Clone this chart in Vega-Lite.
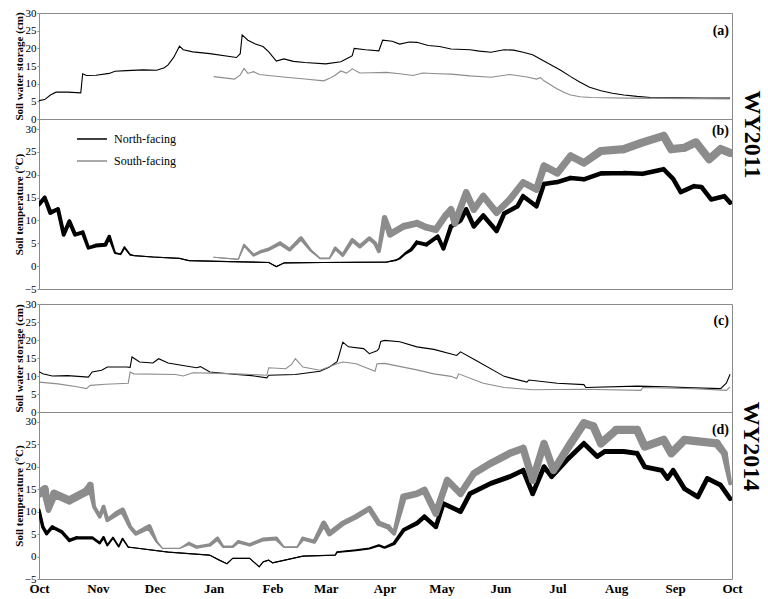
{
  "$schema": "https://vega.github.io/schema/vega-lite/v6.json",
  "padding": {"left": 12, "top": 6, "right": 0, "bottom": 0},
  "background": "white",
  "config": {
    "font": "Liberation Serif",
    "view": {"stroke": "#8a8a8a", "strokeWidth": 1},
    "axis": {"labelFont": "Liberation Serif", "labelFontSize": 11, "labelColor": "#000", "titleFont": "Liberation Serif", "titleFontSize": 11, "titleFontWeight": "bold", "titleColor": "#000", "domain": false, "grid": false},
    "axisY": {"tickSize": 2, "tickColor": "#8a8a8a", "labelPadding": 1, "minExtent": 14, "maxExtent": 14, "titlePadding": 1}
  },
  "datasets": {
    "a": [
      {"date": "2010/10/01", "site": "North-facing", "v": 5.2},
      {"date": "2010/10/04", "site": "North-facing", "v": 5.5},
      {"date": "2010/10/07", "site": "North-facing", "v": 6.8},
      {"date": "2010/10/10", "site": "North-facing", "v": 7.6},
      {"date": "2010/10/16", "site": "North-facing", "v": 7.6},
      {"date": "2010/10/23", "site": "North-facing", "v": 7.4},
      {"date": "2010/10/24", "site": "North-facing", "v": 12.8},
      {"date": "2010/10/26", "site": "North-facing", "v": 12.3},
      {"date": "2010/10/31", "site": "North-facing", "v": 12.4},
      {"date": "2010/11/07", "site": "North-facing", "v": 12.9},
      {"date": "2010/11/10", "site": "North-facing", "v": 13.5},
      {"date": "2010/11/16", "site": "North-facing", "v": 13.7},
      {"date": "2010/11/25", "site": "North-facing", "v": 13.9},
      {"date": "2010/12/02", "site": "North-facing", "v": 13.8},
      {"date": "2010/12/06", "site": "North-facing", "v": 14.5},
      {"date": "2010/12/08", "site": "North-facing", "v": 15.3},
      {"date": "2010/12/11", "site": "North-facing", "v": 17.5},
      {"date": "2010/12/14", "site": "North-facing", "v": 20.6},
      {"date": "2010/12/16", "site": "North-facing", "v": 19.6},
      {"date": "2010/12/21", "site": "North-facing", "v": 19.0},
      {"date": "2010/12/30", "site": "North-facing", "v": 18.5},
      {"date": "2011/01/13", "site": "North-facing", "v": 17.4},
      {"date": "2011/01/15", "site": "North-facing", "v": 18.5},
      {"date": "2011/01/16", "site": "North-facing", "v": 23.8},
      {"date": "2011/01/19", "site": "North-facing", "v": 22.3},
      {"date": "2011/01/23", "site": "North-facing", "v": 21.2},
      {"date": "2011/01/27", "site": "North-facing", "v": 20.5},
      {"date": "2011/01/30", "site": "North-facing", "v": 19.0},
      {"date": "2011/02/03", "site": "North-facing", "v": 16.4},
      {"date": "2011/02/07", "site": "North-facing", "v": 17.0},
      {"date": "2011/02/12", "site": "North-facing", "v": 16.3},
      {"date": "2011/02/18", "site": "North-facing", "v": 16.0},
      {"date": "2011/03/01", "site": "North-facing", "v": 15.6},
      {"date": "2011/03/09", "site": "North-facing", "v": 16.2},
      {"date": "2011/03/14", "site": "North-facing", "v": 17.6},
      {"date": "2011/03/15", "site": "North-facing", "v": 17.9},
      {"date": "2011/03/16", "site": "North-facing", "v": 20.0},
      {"date": "2011/03/22", "site": "North-facing", "v": 19.6},
      {"date": "2011/03/29", "site": "North-facing", "v": 19.3},
      {"date": "2011/03/31", "site": "North-facing", "v": 22.3},
      {"date": "2011/04/05", "site": "North-facing", "v": 22.0},
      {"date": "2011/04/09", "site": "North-facing", "v": 21.2},
      {"date": "2011/04/14", "site": "North-facing", "v": 21.8},
      {"date": "2011/04/18", "site": "North-facing", "v": 21.7},
      {"date": "2011/04/24", "site": "North-facing", "v": 20.8},
      {"date": "2011/04/30", "site": "North-facing", "v": 20.5},
      {"date": "2011/05/06", "site": "North-facing", "v": 19.8},
      {"date": "2011/05/16", "site": "North-facing", "v": 19.6},
      {"date": "2011/05/21", "site": "North-facing", "v": 19.2},
      {"date": "2011/05/27", "site": "North-facing", "v": 18.9},
      {"date": "2011/06/03", "site": "North-facing", "v": 19.6},
      {"date": "2011/06/08", "site": "North-facing", "v": 19.5},
      {"date": "2011/06/13", "site": "North-facing", "v": 18.9},
      {"date": "2011/06/18", "site": "North-facing", "v": 18.2},
      {"date": "2011/06/22", "site": "North-facing", "v": 17.0},
      {"date": "2011/06/28", "site": "North-facing", "v": 15.2},
      {"date": "2011/07/03", "site": "North-facing", "v": 13.7},
      {"date": "2011/07/08", "site": "North-facing", "v": 12.0},
      {"date": "2011/07/13", "site": "North-facing", "v": 10.4},
      {"date": "2011/07/18", "site": "North-facing", "v": 9.0},
      {"date": "2011/07/24", "site": "North-facing", "v": 8.0},
      {"date": "2011/07/30", "site": "North-facing", "v": 7.3},
      {"date": "2011/08/05", "site": "North-facing", "v": 6.8},
      {"date": "2011/08/12", "site": "North-facing", "v": 6.4},
      {"date": "2011/08/19", "site": "North-facing", "v": 6.1},
      {"date": "2011/09/01", "site": "North-facing", "v": 6.0},
      {"date": "2011/09/16", "site": "North-facing", "v": 5.9},
      {"date": "2011/09/30", "site": "North-facing", "v": 5.9},
      {"date": "2011/01/01", "site": "South-facing", "v": 12.0},
      {"date": "2011/01/12", "site": "South-facing", "v": 11.3},
      {"date": "2011/01/15", "site": "South-facing", "v": 12.5},
      {"date": "2011/01/17", "site": "South-facing", "v": 14.3},
      {"date": "2011/01/19", "site": "South-facing", "v": 12.9},
      {"date": "2011/01/22", "site": "South-facing", "v": 13.4},
      {"date": "2011/01/25", "site": "South-facing", "v": 12.6},
      {"date": "2011/01/30", "site": "South-facing", "v": 12.3},
      {"date": "2011/02/08", "site": "South-facing", "v": 11.8},
      {"date": "2011/02/18", "site": "South-facing", "v": 11.3},
      {"date": "2011/02/28", "site": "South-facing", "v": 10.8},
      {"date": "2011/03/03", "site": "South-facing", "v": 11.5},
      {"date": "2011/03/06", "site": "South-facing", "v": 12.4},
      {"date": "2011/03/09", "site": "South-facing", "v": 13.6},
      {"date": "2011/03/12", "site": "South-facing", "v": 13.0},
      {"date": "2011/03/15", "site": "South-facing", "v": 14.2},
      {"date": "2011/03/19", "site": "South-facing", "v": 13.0},
      {"date": "2011/03/25", "site": "South-facing", "v": 13.1},
      {"date": "2011/04/02", "site": "South-facing", "v": 13.2},
      {"date": "2011/04/09", "site": "South-facing", "v": 12.8},
      {"date": "2011/04/16", "site": "South-facing", "v": 12.3},
      {"date": "2011/04/21", "site": "South-facing", "v": 13.0},
      {"date": "2011/04/29", "site": "South-facing", "v": 12.8},
      {"date": "2011/05/06", "site": "South-facing", "v": 12.7},
      {"date": "2011/05/16", "site": "South-facing", "v": 12.2},
      {"date": "2011/05/27", "site": "South-facing", "v": 11.8},
      {"date": "2011/06/06", "site": "South-facing", "v": 12.6},
      {"date": "2011/06/15", "site": "South-facing", "v": 11.9},
      {"date": "2011/06/20", "site": "South-facing", "v": 11.3},
      {"date": "2011/06/22", "site": "South-facing", "v": 11.7},
      {"date": "2011/06/24", "site": "South-facing", "v": 10.8},
      {"date": "2011/06/28", "site": "South-facing", "v": 9.5},
      {"date": "2011/07/01", "site": "South-facing", "v": 8.5},
      {"date": "2011/07/05", "site": "South-facing", "v": 7.4},
      {"date": "2011/07/08", "site": "South-facing", "v": 6.8},
      {"date": "2011/07/13", "site": "South-facing", "v": 6.3},
      {"date": "2011/07/19", "site": "South-facing", "v": 6.1},
      {"date": "2011/08/07", "site": "South-facing", "v": 5.9},
      {"date": "2011/09/30", "site": "South-facing", "v": 5.7}
    ],
    "b": [
      {"date": "2010/10/01", "site": "North-facing", "v": 13.5, "r": 1.0},
      {"date": "2010/10/04", "site": "North-facing", "v": 15.0, "r": 1.0},
      {"date": "2010/10/07", "site": "North-facing", "v": 11.7, "r": 1.2},
      {"date": "2010/10/11", "site": "North-facing", "v": 12.5, "r": 1.0},
      {"date": "2010/10/14", "site": "North-facing", "v": 6.9, "r": 1.0},
      {"date": "2010/10/17", "site": "North-facing", "v": 9.8, "r": 1.0},
      {"date": "2010/10/20", "site": "North-facing", "v": 6.9, "r": 1.0},
      {"date": "2010/10/24", "site": "North-facing", "v": 7.4, "r": 1.0},
      {"date": "2010/10/27", "site": "North-facing", "v": 4.0, "r": 0.8},
      {"date": "2010/10/31", "site": "North-facing", "v": 4.5, "r": 1.0},
      {"date": "2010/11/05", "site": "North-facing", "v": 4.7, "r": 1.0},
      {"date": "2010/11/07", "site": "North-facing", "v": 6.5, "r": 0.8},
      {"date": "2010/11/10", "site": "North-facing", "v": 2.9, "r": 0.3},
      {"date": "2010/11/13", "site": "North-facing", "v": 2.6, "r": 0.2},
      {"date": "2010/11/15", "site": "North-facing", "v": 4.1, "r": 0.3},
      {"date": "2010/11/18", "site": "North-facing", "v": 2.5, "r": 0.2},
      {"date": "2010/11/20", "site": "North-facing", "v": 2.3, "r": 0},
      {"date": "2010/11/30", "site": "North-facing", "v": 2.0, "r": 0},
      {"date": "2010/12/14", "site": "North-facing", "v": 1.7, "r": 0},
      {"date": "2010/12/19", "site": "North-facing", "v": 1.2, "r": 0},
      {"date": "2011/01/09", "site": "North-facing", "v": 1.0, "r": 0},
      {"date": "2011/01/30", "site": "North-facing", "v": 0.8, "r": 0},
      {"date": "2011/02/03", "site": "North-facing", "v": -0.1, "r": 0},
      {"date": "2011/02/07", "site": "North-facing", "v": 0.7, "r": 0},
      {"date": "2011/02/28", "site": "North-facing", "v": 0.8, "r": 0},
      {"date": "2011/04/02", "site": "North-facing", "v": 0.9, "r": 0},
      {"date": "2011/04/07", "site": "North-facing", "v": 1.3, "r": 0.2},
      {"date": "2011/04/09", "site": "North-facing", "v": 1.7, "r": 0.3},
      {"date": "2011/04/12", "site": "North-facing", "v": 2.8, "r": 0.5},
      {"date": "2011/04/15", "site": "North-facing", "v": 3.6, "r": 0.8},
      {"date": "2011/04/18", "site": "North-facing", "v": 5.2, "r": 1.0},
      {"date": "2011/04/23", "site": "North-facing", "v": 4.7, "r": 1.0},
      {"date": "2011/04/29", "site": "North-facing", "v": 6.5, "r": 1.0},
      {"date": "2011/05/02", "site": "North-facing", "v": 3.8, "r": 1.0},
      {"date": "2011/05/06", "site": "North-facing", "v": 8.7, "r": 1.2},
      {"date": "2011/05/11", "site": "North-facing", "v": 10.0, "r": 1.2},
      {"date": "2011/05/14", "site": "North-facing", "v": 12.4, "r": 1.2},
      {"date": "2011/05/18", "site": "North-facing", "v": 8.7, "r": 1.2},
      {"date": "2011/05/23", "site": "North-facing", "v": 11.1, "r": 1.2},
      {"date": "2011/05/30", "site": "North-facing", "v": 7.7, "r": 1.2},
      {"date": "2011/06/03", "site": "North-facing", "v": 11.5, "r": 1.2},
      {"date": "2011/06/10", "site": "North-facing", "v": 13.1, "r": 1.2},
      {"date": "2011/06/13", "site": "North-facing", "v": 15.3, "r": 1.2},
      {"date": "2011/06/20", "site": "North-facing", "v": 13.1, "r": 1.2},
      {"date": "2011/06/24", "site": "North-facing", "v": 18.0, "r": 1.2},
      {"date": "2011/07/01", "site": "North-facing", "v": 18.4, "r": 1.2},
      {"date": "2011/07/08", "site": "North-facing", "v": 19.3, "r": 1.2},
      {"date": "2011/07/15", "site": "North-facing", "v": 19.0, "r": 1.2},
      {"date": "2011/07/24", "site": "North-facing", "v": 20.3, "r": 1.2},
      {"date": "2011/08/05", "site": "North-facing", "v": 20.4, "r": 1.2},
      {"date": "2011/08/15", "site": "North-facing", "v": 20.2, "r": 1.2},
      {"date": "2011/08/26", "site": "North-facing", "v": 21.2, "r": 1.2},
      {"date": "2011/08/31", "site": "North-facing", "v": 19.1, "r": 1.2},
      {"date": "2011/09/04", "site": "North-facing", "v": 16.2, "r": 1.2},
      {"date": "2011/09/11", "site": "North-facing", "v": 17.5, "r": 1.2},
      {"date": "2011/09/15", "site": "North-facing", "v": 17.3, "r": 1.2},
      {"date": "2011/09/20", "site": "North-facing", "v": 14.6, "r": 1.2},
      {"date": "2011/09/27", "site": "North-facing", "v": 15.3, "r": 1.2},
      {"date": "2011/09/30", "site": "North-facing", "v": 13.9, "r": 1.2},
      {"date": "2011/01/01", "site": "South-facing", "v": 1.95, "r": 0},
      {"date": "2011/01/14", "site": "South-facing", "v": 1.5, "r": 0},
      {"date": "2011/01/17", "site": "South-facing", "v": 4.6, "r": 0.5},
      {"date": "2011/01/22", "site": "South-facing", "v": 2.4, "r": 0.6},
      {"date": "2011/01/26", "site": "South-facing", "v": 3.2, "r": 0.8},
      {"date": "2011/01/30", "site": "South-facing", "v": 3.7, "r": 0.8},
      {"date": "2011/02/05", "site": "South-facing", "v": 5.0, "r": 1.0},
      {"date": "2011/02/10", "site": "South-facing", "v": 3.6, "r": 0.8},
      {"date": "2011/02/16", "site": "South-facing", "v": 6.1, "r": 1.0},
      {"date": "2011/02/21", "site": "South-facing", "v": 3.5, "r": 0.5},
      {"date": "2011/02/26", "site": "South-facing", "v": 1.7, "r": 0.2},
      {"date": "2011/03/03", "site": "South-facing", "v": 1.7, "r": 0.2},
      {"date": "2011/03/06", "site": "South-facing", "v": 3.9, "r": 0.8},
      {"date": "2011/03/10", "site": "South-facing", "v": 2.4, "r": 0.8},
      {"date": "2011/03/15", "site": "South-facing", "v": 5.7, "r": 1.0},
      {"date": "2011/03/19", "site": "South-facing", "v": 4.3, "r": 1.0},
      {"date": "2011/03/24", "site": "South-facing", "v": 6.1, "r": 1.0},
      {"date": "2011/03/27", "site": "South-facing", "v": 5.0, "r": 1.0},
      {"date": "2011/03/29", "site": "South-facing", "v": 3.3, "r": 1.0},
      {"date": "2011/04/01", "site": "South-facing", "v": 10.6, "r": 1.5},
      {"date": "2011/04/04", "site": "South-facing", "v": 7.0, "r": 2.0},
      {"date": "2011/04/11", "site": "South-facing", "v": 8.7, "r": 2.0},
      {"date": "2011/04/18", "site": "South-facing", "v": 9.4, "r": 2.0},
      {"date": "2011/04/23", "site": "South-facing", "v": 8.5, "r": 2.0},
      {"date": "2011/04/28", "site": "South-facing", "v": 8.0, "r": 2.0},
      {"date": "2011/05/03", "site": "South-facing", "v": 11.0, "r": 2.0},
      {"date": "2011/05/06", "site": "South-facing", "v": 12.4, "r": 2.0},
      {"date": "2011/05/08", "site": "South-facing", "v": 9.4, "r": 2.0},
      {"date": "2011/05/14", "site": "South-facing", "v": 16.1, "r": 2.0},
      {"date": "2011/05/18", "site": "South-facing", "v": 12.4, "r": 2.0},
      {"date": "2011/05/23", "site": "South-facing", "v": 15.3, "r": 2.0},
      {"date": "2011/05/30", "site": "South-facing", "v": 11.7, "r": 2.0},
      {"date": "2011/06/06", "site": "South-facing", "v": 14.6, "r": 2.0},
      {"date": "2011/06/13", "site": "South-facing", "v": 18.3, "r": 2.0},
      {"date": "2011/06/20", "site": "South-facing", "v": 16.8, "r": 2.0},
      {"date": "2011/06/24", "site": "South-facing", "v": 21.9, "r": 2.2},
      {"date": "2011/07/01", "site": "South-facing", "v": 20.4, "r": 2.2},
      {"date": "2011/07/08", "site": "South-facing", "v": 24.1, "r": 2.2},
      {"date": "2011/07/15", "site": "South-facing", "v": 22.6, "r": 2.2},
      {"date": "2011/07/24", "site": "South-facing", "v": 25.2, "r": 2.5},
      {"date": "2011/08/05", "site": "South-facing", "v": 25.6, "r": 2.5},
      {"date": "2011/08/15", "site": "South-facing", "v": 27.1, "r": 2.5},
      {"date": "2011/08/26", "site": "South-facing", "v": 28.5, "r": 2.5},
      {"date": "2011/08/30", "site": "South-facing", "v": 25.6, "r": 2.5},
      {"date": "2011/09/06", "site": "South-facing", "v": 25.9, "r": 2.5},
      {"date": "2011/09/12", "site": "South-facing", "v": 27.1, "r": 2.5},
      {"date": "2011/09/19", "site": "South-facing", "v": 23.4, "r": 2.5},
      {"date": "2011/09/25", "site": "South-facing", "v": 25.6, "r": 2.5},
      {"date": "2011/09/30", "site": "South-facing", "v": 24.8, "r": 2.5}
    ],
    "c": [
      {"date": "2013/10/01", "site": "North-facing", "v": 11.2},
      {"date": "2013/10/03", "site": "North-facing", "v": 10.6},
      {"date": "2013/10/08", "site": "North-facing", "v": 10.0},
      {"date": "2013/10/16", "site": "North-facing", "v": 10.1},
      {"date": "2013/10/27", "site": "North-facing", "v": 9.7},
      {"date": "2013/10/29", "site": "North-facing", "v": 11.1},
      {"date": "2013/11/03", "site": "North-facing", "v": 11.6},
      {"date": "2013/11/06", "site": "North-facing", "v": 12.5},
      {"date": "2013/11/16", "site": "North-facing", "v": 12.5},
      {"date": "2013/11/18", "site": "North-facing", "v": 12.4},
      {"date": "2013/11/19", "site": "North-facing", "v": 15.3},
      {"date": "2013/11/23", "site": "North-facing", "v": 13.9},
      {"date": "2013/11/30", "site": "North-facing", "v": 13.6},
      {"date": "2013/12/03", "site": "North-facing", "v": 14.8},
      {"date": "2013/12/08", "site": "North-facing", "v": 13.6},
      {"date": "2013/12/15", "site": "North-facing", "v": 13.0},
      {"date": "2013/12/23", "site": "North-facing", "v": 12.3},
      {"date": "2013/12/25", "site": "North-facing", "v": 12.6},
      {"date": "2013/12/30", "site": "North-facing", "v": 11.1},
      {"date": "2014/01/13", "site": "North-facing", "v": 10.4},
      {"date": "2014/01/21", "site": "North-facing", "v": 10.1},
      {"date": "2014/01/29", "site": "North-facing", "v": 9.5},
      {"date": "2014/01/30", "site": "North-facing", "v": 10.2},
      {"date": "2014/02/13", "site": "North-facing", "v": 10.4},
      {"date": "2014/02/26", "site": "North-facing", "v": 11.3},
      {"date": "2014/03/03", "site": "North-facing", "v": 12.5},
      {"date": "2014/03/07", "site": "North-facing", "v": 14.0},
      {"date": "2014/03/08", "site": "North-facing", "v": 15.7},
      {"date": "2014/03/10", "site": "North-facing", "v": 19.4},
      {"date": "2014/03/13", "site": "North-facing", "v": 18.1},
      {"date": "2014/03/21", "site": "North-facing", "v": 17.6},
      {"date": "2014/03/24", "site": "North-facing", "v": 16.2},
      {"date": "2014/03/28", "site": "North-facing", "v": 17.0},
      {"date": "2014/03/29", "site": "North-facing", "v": 17.6},
      {"date": "2014/03/30", "site": "North-facing", "v": 19.6},
      {"date": "2014/04/01", "site": "North-facing", "v": 19.9},
      {"date": "2014/04/09", "site": "North-facing", "v": 19.5},
      {"date": "2014/04/18", "site": "North-facing", "v": 18.1},
      {"date": "2014/04/27", "site": "North-facing", "v": 17.4},
      {"date": "2014/05/09", "site": "North-facing", "v": 15.7},
      {"date": "2014/05/11", "site": "North-facing", "v": 16.7},
      {"date": "2014/05/19", "site": "North-facing", "v": 14.4},
      {"date": "2014/06/03", "site": "North-facing", "v": 9.9},
      {"date": "2014/06/15", "site": "North-facing", "v": 8.3},
      {"date": "2014/06/16", "site": "North-facing", "v": 8.9},
      {"date": "2014/07/01", "site": "North-facing", "v": 8.0},
      {"date": "2014/07/15", "site": "North-facing", "v": 7.6},
      {"date": "2014/07/16", "site": "North-facing", "v": 6.8},
      {"date": "2014/08/12", "site": "North-facing", "v": 7.2},
      {"date": "2014/08/27", "site": "North-facing", "v": 7.0},
      {"date": "2014/09/11", "site": "North-facing", "v": 6.7},
      {"date": "2014/09/25", "site": "North-facing", "v": 6.5},
      {"date": "2014/09/28", "site": "North-facing", "v": 8.0},
      {"date": "2014/09/30", "site": "North-facing", "v": 10.5},
      {"date": "2013/10/01", "site": "South-facing", "v": 8.3},
      {"date": "2013/10/11", "site": "South-facing", "v": 7.8},
      {"date": "2013/10/21", "site": "South-facing", "v": 7.0},
      {"date": "2013/10/26", "site": "South-facing", "v": 6.5},
      {"date": "2013/10/28", "site": "South-facing", "v": 7.4},
      {"date": "2013/11/05", "site": "South-facing", "v": 7.7},
      {"date": "2013/11/17", "site": "South-facing", "v": 8.0},
      {"date": "2013/11/18", "site": "South-facing", "v": 11.1},
      {"date": "2013/11/20", "site": "South-facing", "v": 10.6},
      {"date": "2013/12/12", "site": "South-facing", "v": 10.4},
      {"date": "2013/12/16", "site": "South-facing", "v": 10.0},
      {"date": "2013/12/21", "site": "South-facing", "v": 10.9},
      {"date": "2013/12/30", "site": "South-facing", "v": 10.8},
      {"date": "2014/01/13", "site": "South-facing", "v": 10.6},
      {"date": "2014/01/29", "site": "South-facing", "v": 10.2},
      {"date": "2014/01/30", "site": "South-facing", "v": 12.3},
      {"date": "2014/02/08", "site": "South-facing", "v": 12.0},
      {"date": "2014/02/11", "site": "South-facing", "v": 13.2},
      {"date": "2014/02/13", "site": "South-facing", "v": 14.8},
      {"date": "2014/02/17", "site": "South-facing", "v": 12.5},
      {"date": "2014/02/26", "site": "South-facing", "v": 11.6},
      {"date": "2014/03/07", "site": "South-facing", "v": 13.4},
      {"date": "2014/03/10", "site": "South-facing", "v": 13.9},
      {"date": "2014/03/17", "site": "South-facing", "v": 13.4},
      {"date": "2014/03/27", "site": "South-facing", "v": 11.3},
      {"date": "2014/03/28", "site": "South-facing", "v": 13.4},
      {"date": "2014/04/01", "site": "South-facing", "v": 13.5},
      {"date": "2014/04/18", "site": "South-facing", "v": 11.7},
      {"date": "2014/04/27", "site": "South-facing", "v": 10.6},
      {"date": "2014/05/06", "site": "South-facing", "v": 9.9},
      {"date": "2014/05/09", "site": "South-facing", "v": 9.3},
      {"date": "2014/05/10", "site": "South-facing", "v": 10.6},
      {"date": "2014/05/23", "site": "South-facing", "v": 8.0},
      {"date": "2014/06/03", "site": "South-facing", "v": 6.8},
      {"date": "2014/06/18", "site": "South-facing", "v": 6.2},
      {"date": "2014/07/15", "site": "South-facing", "v": 6.3},
      {"date": "2014/08/14", "site": "South-facing", "v": 6.0},
      {"date": "2014/08/15", "site": "South-facing", "v": 6.8},
      {"date": "2014/09/11", "site": "South-facing", "v": 6.5},
      {"date": "2014/09/28", "site": "South-facing", "v": 6.0},
      {"date": "2014/09/30", "site": "South-facing", "v": 7.0}
    ],
    "d": [
      {"date": "2013/10/01", "site": "North-facing", "v": 10.3, "r": 0.8},
      {"date": "2013/10/03", "site": "North-facing", "v": 6.6, "r": 0.8},
      {"date": "2013/10/05", "site": "North-facing", "v": 5.1, "r": 0.8},
      {"date": "2013/10/08", "site": "North-facing", "v": 6.6, "r": 0.8},
      {"date": "2013/10/13", "site": "North-facing", "v": 5.5, "r": 0.8},
      {"date": "2013/10/17", "site": "North-facing", "v": 3.6, "r": 0.8},
      {"date": "2013/10/21", "site": "North-facing", "v": 4.2, "r": 0.8},
      {"date": "2013/10/29", "site": "North-facing", "v": 4.2, "r": 0.6},
      {"date": "2013/11/02", "site": "North-facing", "v": 3.0, "r": 0.5},
      {"date": "2013/11/04", "site": "North-facing", "v": 4.3, "r": 0.5},
      {"date": "2013/11/06", "site": "North-facing", "v": 2.5, "r": 0.3},
      {"date": "2013/11/09", "site": "North-facing", "v": 4.2, "r": 0.3},
      {"date": "2013/11/12", "site": "North-facing", "v": 2.2, "r": 0.2},
      {"date": "2013/11/14", "site": "North-facing", "v": 4.0, "r": 0.2},
      {"date": "2013/11/17", "site": "North-facing", "v": 2.1, "r": 0.1},
      {"date": "2013/11/21", "site": "North-facing", "v": 1.9, "r": 0},
      {"date": "2013/12/08", "site": "North-facing", "v": 1.0, "r": 0},
      {"date": "2013/12/30", "site": "North-facing", "v": 0.3, "r": 0},
      {"date": "2014/01/04", "site": "North-facing", "v": -0.8, "r": 0},
      {"date": "2014/01/08", "site": "North-facing", "v": -1.6, "r": 0},
      {"date": "2014/01/11", "site": "North-facing", "v": -0.4, "r": 0},
      {"date": "2014/01/20", "site": "North-facing", "v": -0.4, "r": 0},
      {"date": "2014/01/25", "site": "North-facing", "v": -2.3, "r": 0},
      {"date": "2014/01/27", "site": "North-facing", "v": -1.2, "r": 0},
      {"date": "2014/01/30", "site": "North-facing", "v": -0.8, "r": 0},
      {"date": "2014/02/01", "site": "North-facing", "v": -1.4, "r": 0},
      {"date": "2014/02/17", "site": "North-facing", "v": 0.1, "r": 0},
      {"date": "2014/03/06", "site": "North-facing", "v": 0.3, "r": 0},
      {"date": "2014/03/07", "site": "North-facing", "v": 1.0, "r": 0.2},
      {"date": "2014/03/17", "site": "North-facing", "v": 1.4, "r": 0.3},
      {"date": "2014/03/24", "site": "North-facing", "v": 1.8, "r": 0.3},
      {"date": "2014/03/29", "site": "North-facing", "v": 2.5, "r": 0.4},
      {"date": "2014/04/01", "site": "North-facing", "v": 2.0, "r": 0.4},
      {"date": "2014/04/06", "site": "North-facing", "v": 2.9, "r": 0.8},
      {"date": "2014/04/11", "site": "North-facing", "v": 5.9, "r": 1.0},
      {"date": "2014/04/18", "site": "North-facing", "v": 7.4, "r": 1.2},
      {"date": "2014/04/22", "site": "North-facing", "v": 8.9, "r": 1.2},
      {"date": "2014/04/28", "site": "North-facing", "v": 6.6, "r": 1.2},
      {"date": "2014/05/02", "site": "North-facing", "v": 11.8, "r": 1.2},
      {"date": "2014/05/11", "site": "North-facing", "v": 10.0, "r": 1.3},
      {"date": "2014/05/16", "site": "North-facing", "v": 14.0, "r": 1.3},
      {"date": "2014/05/27", "site": "North-facing", "v": 16.3, "r": 1.3},
      {"date": "2014/06/06", "site": "North-facing", "v": 17.8, "r": 1.3},
      {"date": "2014/06/13", "site": "North-facing", "v": 19.2, "r": 1.3},
      {"date": "2014/06/18", "site": "North-facing", "v": 14.0, "r": 1.3},
      {"date": "2014/06/24", "site": "North-facing", "v": 20.0, "r": 1.3},
      {"date": "2014/06/28", "site": "North-facing", "v": 17.8, "r": 1.3},
      {"date": "2014/07/06", "site": "North-facing", "v": 21.5, "r": 1.3},
      {"date": "2014/07/15", "site": "North-facing", "v": 25.2, "r": 1.3},
      {"date": "2014/07/22", "site": "North-facing", "v": 22.3, "r": 1.3},
      {"date": "2014/07/26", "site": "North-facing", "v": 23.4, "r": 1.3},
      {"date": "2014/08/05", "site": "North-facing", "v": 23.4, "r": 1.3},
      {"date": "2014/08/12", "site": "North-facing", "v": 23.0, "r": 1.3},
      {"date": "2014/08/16", "site": "North-facing", "v": 20.0, "r": 1.3},
      {"date": "2014/08/25", "site": "North-facing", "v": 19.2, "r": 1.3},
      {"date": "2014/08/28", "site": "North-facing", "v": 17.4, "r": 1.3},
      {"date": "2014/08/31", "site": "North-facing", "v": 19.2, "r": 1.3},
      {"date": "2014/09/06", "site": "North-facing", "v": 15.1, "r": 1.3},
      {"date": "2014/09/13", "site": "North-facing", "v": 13.3, "r": 1.3},
      {"date": "2014/09/18", "site": "North-facing", "v": 17.4, "r": 1.3},
      {"date": "2014/09/25", "site": "North-facing", "v": 15.9, "r": 1.3},
      {"date": "2014/09/30", "site": "North-facing", "v": 12.9, "r": 1.3},
      {"date": "2013/10/01", "site": "South-facing", "v": 14.0, "r": 2.5},
      {"date": "2013/10/04", "site": "South-facing", "v": 15.0, "r": 2.5},
      {"date": "2013/10/06", "site": "South-facing", "v": 10.3, "r": 1.5},
      {"date": "2013/10/09", "site": "South-facing", "v": 14.0, "r": 2.5},
      {"date": "2013/10/17", "site": "South-facing", "v": 12.5, "r": 2.5},
      {"date": "2013/10/26", "site": "South-facing", "v": 14.5, "r": 2.5},
      {"date": "2013/10/28", "site": "South-facing", "v": 15.9, "r": 2.0},
      {"date": "2013/10/30", "site": "South-facing", "v": 11.1, "r": 1.0},
      {"date": "2013/11/02", "site": "South-facing", "v": 8.9, "r": 1.0},
      {"date": "2013/11/04", "site": "South-facing", "v": 11.1, "r": 1.0},
      {"date": "2013/11/06", "site": "South-facing", "v": 8.1, "r": 1.0},
      {"date": "2013/11/11", "site": "South-facing", "v": 9.6, "r": 1.5},
      {"date": "2013/11/14", "site": "South-facing", "v": 10.3, "r": 1.5},
      {"date": "2013/11/18", "site": "South-facing", "v": 6.6, "r": 1.0},
      {"date": "2013/11/21", "site": "South-facing", "v": 5.1, "r": 1.0},
      {"date": "2013/11/28", "site": "South-facing", "v": 6.6, "r": 1.5},
      {"date": "2013/12/02", "site": "South-facing", "v": 3.3, "r": 0.5},
      {"date": "2013/12/05", "site": "South-facing", "v": 1.8, "r": 0},
      {"date": "2013/12/14", "site": "South-facing", "v": 1.8, "r": 0},
      {"date": "2013/12/19", "site": "South-facing", "v": 2.9, "r": 0.8},
      {"date": "2013/12/23", "site": "South-facing", "v": 2.1, "r": 0.8},
      {"date": "2013/12/30", "site": "South-facing", "v": 2.6, "r": 0.8},
      {"date": "2014/01/03", "site": "South-facing", "v": 4.0, "r": 1.0},
      {"date": "2014/01/06", "site": "South-facing", "v": 2.2, "r": 0.5},
      {"date": "2014/01/11", "site": "South-facing", "v": 2.2, "r": 0.5},
      {"date": "2014/01/14", "site": "South-facing", "v": 3.3, "r": 0.8},
      {"date": "2014/01/20", "site": "South-facing", "v": 2.6, "r": 0.8},
      {"date": "2014/01/27", "site": "South-facing", "v": 3.8, "r": 1.0},
      {"date": "2014/02/03", "site": "South-facing", "v": 4.0, "r": 1.0},
      {"date": "2014/02/07", "site": "South-facing", "v": 2.1, "r": 0.2},
      {"date": "2014/02/14", "site": "South-facing", "v": 2.1, "r": 0.2},
      {"date": "2014/02/17", "site": "South-facing", "v": 4.0, "r": 1.0},
      {"date": "2014/02/23", "site": "South-facing", "v": 3.3, "r": 1.0},
      {"date": "2014/02/28", "site": "South-facing", "v": 7.4, "r": 1.5},
      {"date": "2014/03/03", "site": "South-facing", "v": 5.1, "r": 1.5},
      {"date": "2014/03/10", "site": "South-facing", "v": 7.4, "r": 1.5},
      {"date": "2014/03/17", "site": "South-facing", "v": 8.9, "r": 1.5},
      {"date": "2014/03/24", "site": "South-facing", "v": 10.7, "r": 1.5},
      {"date": "2014/03/29", "site": "South-facing", "v": 7.4, "r": 1.5},
      {"date": "2014/04/03", "site": "South-facing", "v": 6.6, "r": 1.5},
      {"date": "2014/04/06", "site": "South-facing", "v": 5.1, "r": 1.0},
      {"date": "2014/04/11", "site": "South-facing", "v": 13.3, "r": 2.0},
      {"date": "2014/04/18", "site": "South-facing", "v": 14.0, "r": 2.0},
      {"date": "2014/04/22", "site": "South-facing", "v": 14.8, "r": 2.0},
      {"date": "2014/04/28", "site": "South-facing", "v": 9.6, "r": 2.0},
      {"date": "2014/05/04", "site": "South-facing", "v": 17.0, "r": 2.0},
      {"date": "2014/05/11", "site": "South-facing", "v": 14.0, "r": 2.0},
      {"date": "2014/05/18", "site": "South-facing", "v": 18.5, "r": 2.0},
      {"date": "2014/05/27", "site": "South-facing", "v": 20.8, "r": 2.2},
      {"date": "2014/06/06", "site": "South-facing", "v": 23.0, "r": 2.2},
      {"date": "2014/06/13", "site": "South-facing", "v": 24.1, "r": 2.2},
      {"date": "2014/06/18", "site": "South-facing", "v": 17.0, "r": 2.2},
      {"date": "2014/06/24", "site": "South-facing", "v": 25.2, "r": 2.2},
      {"date": "2014/06/29", "site": "South-facing", "v": 19.2, "r": 2.2},
      {"date": "2014/07/08", "site": "South-facing", "v": 25.2, "r": 2.5},
      {"date": "2014/07/15", "site": "South-facing", "v": 29.7, "r": 2.5},
      {"date": "2014/07/20", "site": "South-facing", "v": 29.0, "r": 2.5},
      {"date": "2014/07/24", "site": "South-facing", "v": 25.2, "r": 2.5},
      {"date": "2014/08/01", "site": "South-facing", "v": 28.2, "r": 2.5},
      {"date": "2014/08/12", "site": "South-facing", "v": 28.2, "r": 2.5},
      {"date": "2014/08/16", "site": "South-facing", "v": 24.5, "r": 2.5},
      {"date": "2014/08/26", "site": "South-facing", "v": 26.0, "r": 2.5},
      {"date": "2014/08/30", "site": "South-facing", "v": 23.0, "r": 2.5},
      {"date": "2014/09/06", "site": "South-facing", "v": 26.0, "r": 2.5},
      {"date": "2014/09/23", "site": "South-facing", "v": 25.2, "r": 2.5},
      {"date": "2014/09/27", "site": "South-facing", "v": 23.0, "r": 2.0},
      {"date": "2014/09/30", "site": "South-facing", "v": 16.3, "r": 1.0}
    ]
  },
  "spacing": 2,
  "resolve": {"scale": {"color": "independent", "size": "independent"}, "legend": {"color": "independent", "size": "independent"}},
  "vconcat": [
    {
      "title": {"text": "WY2011", "orient": "right", "anchor": "middle", "font": "Liberation Serif", "fontSize": 24, "fontWeight": "bold", "color": "#000", "offset": 7, "dx": -16},
      "spacing": 0,
      "bounds": "flush",
      "resolve": {"scale": {"color": "independent", "size": "independent"}, "legend": {"color": "independent", "size": "independent"}},
      "vconcat": [
        {
          "width": 693,
          "height": 106,
          "layer": [
            {
              "data": {"name": "a"},
              "mark": {"type": "line", "strokeWidth": 1.1, "clip": true},
              "encoding": {
                "x": {"field": "date", "type": "temporal", "scale": {"domain": [{"year": 2010, "month": 10, "date": 1}, {"year": 2011, "month": 10, "date": 1}]}, "axis": null},
                "y": {"field": "v", "type": "quantitative", "scale": {"domain": [0, 30], "nice": false}, "axis": {"values": [0, 5, 10, 15, 20, 25, 30], "title": "Soil water storage (cm)", "labelOverlap": false, "labelFlush": false}},
                "color": {"field": "site", "type": "nominal", "scale": {"domain": ["North-facing", "South-facing"], "range": ["#000000", "#8c8c8c"]}, "legend": null}
              }
            },
            {
              "data": {"values": [{"label": "(a)"}]},
              "mark": {"type": "text", "align": "right", "baseline": "middle", "dx": -3, "font": "Liberation Serif", "fontSize": 14, "fontWeight": "bold", "color": "#000"},
              "encoding": {
                "x": {"datum": {"year": 2011, "month": 10, "date": 1}, "type": "temporal", "axis": null},
                "y": {"datum": 25, "type": "quantitative", "axis": {"values": [0, 5, 10, 15, 20, 25, 30], "title": "Soil water storage (cm)", "labelOverlap": false, "labelFlush": false}},
                "text": {"field": "label"}
              }
            }
          ]
        },
        {
          "width": 693,
          "height": 170,
          "layer": [
            {
              "data": {"name": "b"},
              "mark": {"type": "line", "strokeWidth": 1, "clip": true},
              "encoding": {
                "x": {"field": "date", "type": "temporal", "scale": {"domain": [{"year": 2010, "month": 10, "date": 1}, {"year": 2011, "month": 10, "date": 1}]}, "axis": null},
                "y": {"field": "v", "type": "quantitative", "scale": {"domain": [-5, 32.2], "nice": false}, "axis": {"values": [-5, 0, 5, 10, 15, 20, 25, 30], "title": "Soil temperature (°C)", "labelOverlap": false, "labelFlush": false}},
                "color": {"field": "site", "type": "nominal", "scale": {"domain": ["North-facing", "South-facing"], "range": ["#000000", "#8c8c8c"]}, "legend": {"orient": "none", "legendX": 37, "legendY": 4, "title": null, "symbolType": "stroke", "symbolSize": 900, "symbolStrokeWidth": 1.5, "labelFont": "Liberation Serif", "labelFontSize": 12, "labelColor": "#000", "labelOffset": 6, "rowPadding": -6}}
              }
            },
            {
              "data": {"name": "b"},
              "mark": {"type": "trail", "clip": true},
              "encoding": {
                "x": {"field": "date", "type": "temporal", "axis": null},
                "y": {"field": "v", "type": "quantitative", "axis": {"values": [-5, 0, 5, 10, 15, 20, 25, 30], "title": "Soil temperature (°C)", "labelOverlap": false, "labelFlush": false}},
                "color": {"field": "site", "type": "nominal", "legend": null},
                "size": {"field": "r", "type": "quantitative", "scale": {"domain": [0, 4], "range": [1.2, 12.4]}, "legend": null}
              }
            },
            {
              "data": {"values": [{"label": "(b)"}]},
              "mark": {"type": "text", "align": "right", "baseline": "middle", "dx": -3, "font": "Liberation Serif", "fontSize": 14, "fontWeight": "bold", "color": "#000"},
              "encoding": {
                "x": {"datum": {"year": 2011, "month": 10, "date": 1}, "type": "temporal", "axis": null},
                "y": {"datum": 29.6, "type": "quantitative", "axis": {"values": [-5, 0, 5, 10, 15, 20, 25, 30], "title": "Soil temperature (°C)", "labelOverlap": false, "labelFlush": false}},
                "text": {"field": "label"}
              }
            }
          ]
        }
      ]
    },
    {
      "title": {"text": "WY2014", "orient": "right", "anchor": "middle", "font": "Liberation Serif", "fontSize": 24, "fontWeight": "bold", "color": "#000", "offset": 7, "dy": 11},
      "spacing": 0,
      "bounds": "flush",
      "resolve": {"scale": {"color": "independent", "size": "independent"}, "legend": {"color": "independent", "size": "independent"}},
      "vconcat": [
        {
          "width": 693,
          "height": 108,
          "layer": [
            {
              "data": {"name": "c"},
              "mark": {"type": "line", "strokeWidth": 1.1, "clip": true},
              "encoding": {
                "x": {"field": "date", "type": "temporal", "scale": {"domain": [{"year": 2013, "month": 10, "date": 1}, {"year": 2014, "month": 10, "date": 1}]}, "axis": null},
                "y": {"field": "v", "type": "quantitative", "scale": {"domain": [0, 30], "nice": false}, "axis": {"values": [0, 5, 10, 15, 20, 25, 30], "title": "Soil water storage (cm)", "labelOverlap": false, "labelFlush": false}},
                "color": {"field": "site", "type": "nominal", "scale": {"domain": ["North-facing", "South-facing"], "range": ["#000000", "#8c8c8c"]}, "legend": null}
              }
            },
            {
              "data": {"values": [{"label": "(c)"}]},
              "mark": {"type": "text", "align": "right", "baseline": "middle", "dx": -3, "font": "Liberation Serif", "fontSize": 14, "fontWeight": "bold", "color": "#000"},
              "encoding": {
                "x": {"datum": {"year": 2014, "month": 10, "date": 1}, "type": "temporal", "axis": null},
                "y": {"datum": 25.4, "type": "quantitative", "axis": {"values": [0, 5, 10, 15, 20, 25, 30], "title": "Soil water storage (cm)", "labelOverlap": false, "labelFlush": false}},
                "text": {"field": "label"}
              }
            }
          ]
        },
        {
          "width": 693,
          "height": 167,
          "layer": [
            {
              "data": {"name": "d"},
              "mark": {"type": "line", "strokeWidth": 1, "clip": true},
              "encoding": {
                "x": {"field": "date", "type": "temporal", "scale": {"domain": [{"year": 2013, "month": 10, "date": 1}, {"year": 2014, "month": 10, "date": 1}]}, "axis": {"values": [{"year": 2013, "month": 10, "date": 1}, {"year": 2013, "month": 11, "date": 1}, {"year": 2013, "month": 12, "date": 1}, {"year": 2014, "month": 1, "date": 1}, {"year": 2014, "month": 2, "date": 1}, {"year": 2014, "month": 3, "date": 1}, {"year": 2014, "month": 4, "date": 1}, {"year": 2014, "month": 5, "date": 1}, {"year": 2014, "month": 6, "date": 1}, {"year": 2014, "month": 7, "date": 1}, {"year": 2014, "month": 8, "date": 1}, {"year": 2014, "month": 9, "date": 1}, {"year": 2014, "month": 10, "date": 1}], "format": "%b", "title": null, "ticks": false, "labelFontWeight": "bold", "labelFontSize": 13, "labelPadding": 3, "labelFlush": false, "labelOverlap": false}},
                "y": {"field": "v", "type": "quantitative", "scale": {"domain": [-5, 32.2], "nice": false}, "axis": {"values": [-5, 0, 5, 10, 15, 20, 25, 30], "title": "Soil temperature (°C)", "labelOverlap": false, "labelFlush": false}},
                "color": {"field": "site", "type": "nominal", "scale": {"domain": ["North-facing", "South-facing"], "range": ["#000000", "#8c8c8c"]}, "legend": null}
              }
            },
            {
              "data": {"name": "d"},
              "mark": {"type": "trail", "clip": true},
              "encoding": {
                "x": {"field": "date", "type": "temporal"},
                "y": {"field": "v", "type": "quantitative", "axis": {"values": [-5, 0, 5, 10, 15, 20, 25, 30], "title": "Soil temperature (°C)", "labelOverlap": false, "labelFlush": false}},
                "color": {"field": "site", "type": "nominal", "legend": null},
                "size": {"field": "r", "type": "quantitative", "scale": {"domain": [0, 4], "range": [1.2, 12.4]}, "legend": null}
              }
            },
            {
              "data": {"values": [{"label": "(d)"}]},
              "mark": {"type": "text", "align": "right", "baseline": "middle", "dx": -3, "font": "Liberation Serif", "fontSize": 14, "fontWeight": "bold", "color": "#000"},
              "encoding": {
                "x": {"datum": {"year": 2014, "month": 10, "date": 1}, "type": "temporal"},
                "y": {"datum": 28.1, "type": "quantitative", "axis": {"values": [-5, 0, 5, 10, 15, 20, 25, 30], "title": "Soil temperature (°C)", "labelOverlap": false, "labelFlush": false}},
                "text": {"field": "label"}
              }
            }
          ]
        }
      ]
    }
  ]
}
